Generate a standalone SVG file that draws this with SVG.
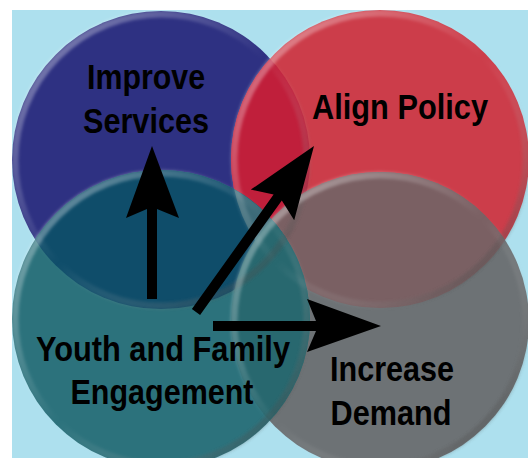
<svg xmlns="http://www.w3.org/2000/svg" width="528" height="458" viewBox="0 0 528 458">
<style>
.lbl{font-family:"Liberation Sans","Arial",sans-serif;font-weight:bold;font-size:35px;fill:#000;text-anchor:middle}
.rim{fill:none;stroke:url(#rimg);stroke-width:7;filter:url(#soft)}
.arr{fill:#000}
</style>
<defs>
<linearGradient id="rimg" x1="0" y1="0" x2="1" y2="1">
<stop offset="0" stop-color="#fff" stop-opacity="0.45"/>
<stop offset="0.5" stop-color="#fff" stop-opacity="0"/>
<stop offset="1" stop-color="#000" stop-opacity="0.45"/>
</linearGradient>
<filter id="soft" x="-10%" y="-10%" width="120%" height="120%"><feGaussianBlur stdDeviation="1.6"/></filter>
<clipPath id="cB"><circle cx="161" cy="160" r="149"/></clipPath>
<clipPath id="cR"><circle cx="380" cy="159" r="149"/></clipPath>
<clipPath id="cT"><circle cx="161" cy="319" r="149"/></clipPath>
<clipPath id="cG"><circle cx="380" cy="321" r="149"/></clipPath>
</defs>
<rect x="0" y="0" width="528" height="458" fill="#fff"/>
<rect x="12" y="10" width="516" height="448" fill="#ade0ee"/>

<g id="improve-services">
<circle cx="161" cy="160" r="149" fill="#2e3182"/>
</g>
<g id="align-policy">
<circle cx="380" cy="159" r="149" fill="#cc3d4a"/>
<circle cx="380" cy="159" r="149" fill="#c01f3b" clip-path="url(#cB)"/>
</g>
<g id="increase-demand">
<circle cx="380" cy="321" r="149" fill="#6d7275"/>
<circle cx="380" cy="321" r="149" fill="#7a6063" clip-path="url(#cR)"/>
</g>
<g id="youth-family-engagement">
<circle cx="161" cy="319" r="149" fill="#2c727c"/>
<circle cx="161" cy="319" r="149" fill="#0f4d6a" clip-path="url(#cB)"/>
<g clip-path="url(#cR)"><circle cx="161" cy="319" r="149" fill="#3c6a78" clip-path="url(#cB)"/></g>
<circle cx="161" cy="319" r="149" fill="#28686f" clip-path="url(#cG)"/>
</g>

<g id="rims">
<circle class="rim" cx="161" cy="160" r="146"/>
<circle class="rim" cx="380" cy="159" r="146"/>
<circle class="rim" cx="380" cy="321" r="146"/>
<circle class="rim" cx="161" cy="319" r="146"/>
</g>

<g id="connectors">
<polygon class="arr" points="152,146 179,218 157,209 157,299 147,299 147,209 126,218"/>
<polygon class="arr" points="314,146 294.2,220.2 281.8,200.4 200.1,314.9 191.9,309.1 273.6,194.6 250.8,189.6"/>
<polygon class="arr" points="213,321 316,321 307,299 381,326 307,352 316,331 213,331"/>
</g>

<g id="labels">
<text class="lbl" x="146" y="89" textLength="118" lengthAdjust="spacingAndGlyphs">Improve</text>
<text class="lbl" x="146" y="133" textLength="126" lengthAdjust="spacingAndGlyphs">Services</text>
<text class="lbl" x="400" y="119" textLength="176" lengthAdjust="spacingAndGlyphs">Align Policy</text>
<text class="lbl" x="163" y="361" textLength="254" lengthAdjust="spacingAndGlyphs">Youth and Family</text>
<text class="lbl" x="162" y="404" textLength="183" lengthAdjust="spacingAndGlyphs">Engagement</text>
<text class="lbl" x="392" y="381" textLength="124" lengthAdjust="spacingAndGlyphs">Increase</text>
<text class="lbl" x="391" y="425" textLength="121" lengthAdjust="spacingAndGlyphs">Demand</text>
</g>
</svg>
